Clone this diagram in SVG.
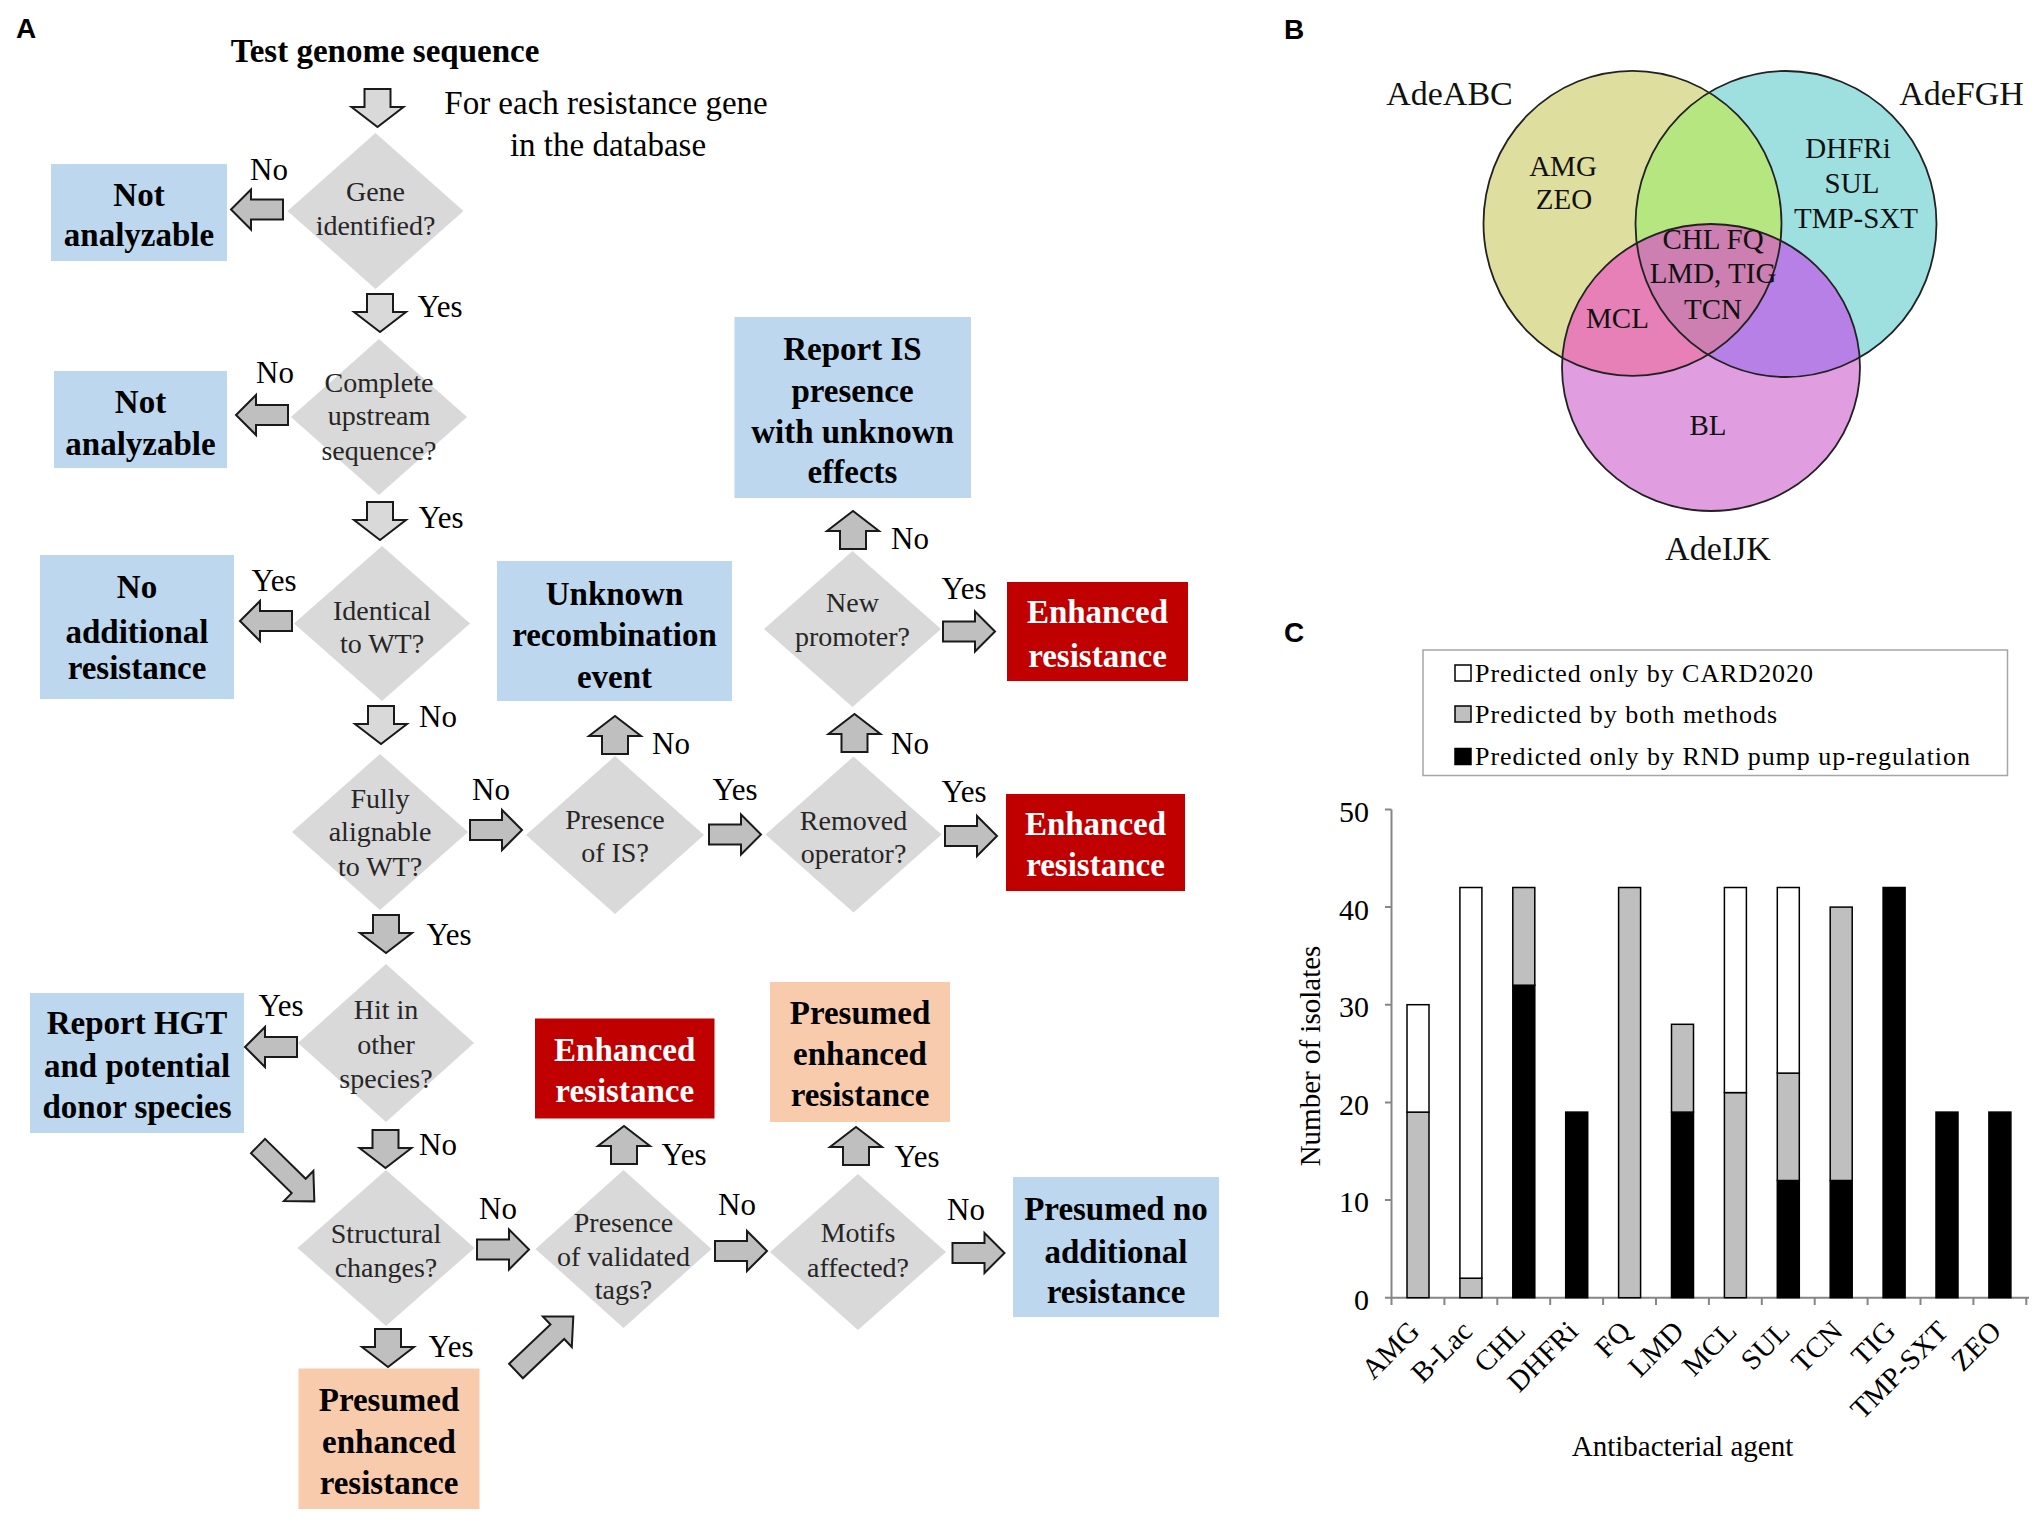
<svg xmlns="http://www.w3.org/2000/svg" xmlns:xlink="http://www.w3.org/1999/xlink" width="2033" height="1517" viewBox="0 0 2033 1517">
<style>
.dm{fill:#d9d9d9}
.bl{fill:#bdd7ee}
.rd{fill:#c00000}
.pc{fill:#f8cbad}
.q{font-family:"Liberation Serif",serif;font-size:28px;fill:#262626;text-anchor:middle}
.bx{font-family:"Liberation Serif",serif;font-size:33px;font-weight:bold;fill:#000;text-anchor:middle}
.bw{font-family:"Liberation Serif",serif;font-size:33px;font-weight:bold;fill:#fff;text-anchor:middle}
.yn{font-family:"Liberation Serif",serif;font-size:31px;fill:#000;text-anchor:middle}
.ti{font-family:"Liberation Serif",serif;font-size:33px;font-weight:bold;fill:#000;text-anchor:middle}
.nt{font-family:"Liberation Serif",serif;font-size:33px;fill:#000;text-anchor:middle}
.pl{font-family:"Liberation Sans",Arial,sans-serif;font-size:28px;font-weight:bold;fill:#000;text-anchor:middle}
.al{fill:#d9d9d9;stroke:#1a1a1a;stroke-width:2}
.am{fill:#bfbfbf;stroke:#1a1a1a;stroke-width:2}
.vr{font-family:"Liberation Serif",serif;font-size:34px;fill:#111;text-anchor:middle}
.vi{font-family:"Liberation Serif",serif;font-size:29px;fill:#111;text-anchor:middle}
.ring{fill:none;stroke:#222;stroke-width:1.8}
.lg{font-family:"Liberation Serif",serif;font-size:26px;fill:#000}
.tk{font-family:"Liberation Serif",serif;font-size:30px;fill:#000;text-anchor:end}
.xl{font-family:"Liberation Serif",serif;font-size:29px;fill:#000;text-anchor:end}
.ax{font-family:"Liberation Serif",serif;font-size:29px;fill:#000;text-anchor:middle}
.axl{stroke:#868686;stroke-width:2;fill:none}
.bw0{fill:#fff;stroke:#000;stroke-width:1.5}
.bg{fill:#bfbfbf;stroke:#000;stroke-width:1.5}
.bk{fill:#000;stroke:#000;stroke-width:1.5}
</style>
<defs>
<path id="ah" d="M0,-10 H32 V-20 L52,0 L32,20 V10 H0 Z"/>
<path id="av" d="M-13,0 H13 V18 H26 L0,38 L-26,18 H-13 Z"/>
<path id="ad" d="M0,-10 H57 V-21 L79,0 L57,21 V10 H0 Z"/>
<clipPath id="cY"><ellipse cx="1632.5" cy="223.3" rx="149" ry="152.5"/></clipPath>
<clipPath id="cC"><ellipse cx="1786" cy="224" rx="150.5" ry="153"/></clipPath>
<clipPath id="cYC" clip-path="url(#cY)"><ellipse cx="1786" cy="224" rx="150.5" ry="153"/></clipPath>
</defs>
<rect width="2033" height="1517" fill="#fff"/>

<!-- Panel A -->
<text class="pl" x="26" y="38">A</text>
<g id="start"><text class="ti" x="385" y="62">Test genome sequence</text></g>
<text class="nt" x="606" y="114">For each resistance gene</text>
<text class="nt" x="608" y="156">in the database</text>

<g id="d1"><polygon class="dm" points="375.5,133 463.5,211 375.5,289 287.5,211"/><text class="q" x="375.5" y="201">Gene</text><text class="q" x="375.5" y="234.5">identified?</text></g>
<g id="d2"><polygon class="dm" points="379,339 467,417 379,495 291,417"/><text class="q" x="379" y="392">Complete</text><text class="q" x="379" y="425">upstream</text><text class="q" x="379" y="460">sequence?</text></g>
<g id="d3"><polygon class="dm" points="382,546 470,623.5 382,701 294,623.5"/><text class="q" x="382" y="620">Identical</text><text class="q" x="382" y="653">to WT?</text></g>
<g id="d4"><polygon class="dm" points="380,754 468,832 380,910 292,832"/><text class="q" x="380" y="807.5">Fully</text><text class="q" x="380" y="841">alignable</text><text class="q" x="380" y="875.5">to WT?</text></g>
<g id="d5"><polygon class="dm" points="615,756 704,835 615,914 526,835"/><text class="q" x="615" y="829">Presence</text><text class="q" x="615" y="862">of IS?</text></g>
<g id="d6"><polygon class="dm" points="853.5,756.5 941.5,834.5 853.5,912.5 765.5,834.5"/><text class="q" x="853.5" y="830">Removed</text><text class="q" x="853.5" y="863">operator?</text></g>
<g id="d7"><polygon class="dm" points="852.5,551 941,629 852.5,707 764,629"/><text class="q" x="852.5" y="612">New</text><text class="q" x="852.5" y="646">promoter?</text></g>
<g id="d8"><polygon class="dm" points="386,964 474,1043 386,1122 298,1043"/><text class="q" x="386" y="1019">Hit in</text><text class="q" x="386" y="1053.5">other</text><text class="q" x="386" y="1088">species?</text></g>
<g id="d9"><polygon class="dm" points="386,1170 474.5,1248 386,1326 297.5,1248"/><text class="q" x="386" y="1242.5">Structural</text><text class="q" x="386" y="1277">changes?</text></g>
<g id="d10"><polygon class="dm" points="623.5,1170 711.5,1249 623.5,1328 535.5,1249"/><text class="q" x="623.5" y="1232">Presence</text><text class="q" x="623.5" y="1265.6">of validated</text><text class="q" x="623.5" y="1299">tags?</text></g>
<g id="d11"><polygon class="dm" points="858,1174 946,1252 858,1330 770,1252"/><text class="q" x="858" y="1241.6">Motifs</text><text class="q" x="858" y="1276.6">affected?</text></g>

<g id="b1"><rect class="bl" x="51" y="164" width="176" height="97"/><text class="bx" x="139" y="205.5">Not</text><text class="bx" x="139" y="245.5">analyzable</text></g>
<g id="b2"><rect class="bl" x="54" y="371" width="173" height="97"/><text class="bx" x="140.5" y="412.5">Not</text><text class="bx" x="140.5" y="454.5">analyzable</text></g>
<g id="b3"><rect class="bl" x="40" y="555" width="194" height="144"/><text class="bx" x="137" y="597.5">No</text><text class="bx" x="137" y="642.5">additional</text><text class="bx" x="137" y="679">resistance</text></g>
<g id="b4"><rect class="bl" x="497" y="561" width="235" height="140"/><text class="bx" x="614.5" y="604.5">Unknown</text><text class="bx" x="614.5" y="645.5">recombination</text><text class="bx" x="614.5" y="687.5">event</text></g>
<g id="b5"><rect class="bl" x="734.5" y="317" width="236.5" height="181"/><text class="bx" x="852.5" y="359.5">Report IS</text><text class="bx" x="852.5" y="401.5">presence</text><text class="bx" x="852.5" y="442.5">with unknown</text><text class="bx" x="852.5" y="482.5">effects</text></g>
<g id="b6"><rect class="rd" x="1007" y="582" width="181" height="99"/><text class="bw" x="1097.5" y="623">Enhanced</text><text class="bw" x="1097.5" y="666.5">resistance</text></g>
<g id="b7"><rect class="rd" x="1006" y="794" width="179" height="97"/><text class="bw" x="1095.5" y="834.5">Enhanced</text><text class="bw" x="1095.5" y="876">resistance</text></g>
<g id="b8"><rect class="bl" x="30" y="993" width="214" height="140"/><text class="bx" x="137" y="1033.5">Report HGT</text><text class="bx" x="137" y="1076.5">and potential</text><text class="bx" x="137" y="1117.5">donor species</text></g>
<g id="b9"><rect class="pc" x="298.5" y="1368.5" width="181" height="140.5"/><text class="bx" x="389" y="1410.5">Presumed</text><text class="bx" x="389" y="1452.5">enhanced</text><text class="bx" x="389" y="1493.5">resistance</text></g>
<g id="b10"><rect class="rd" x="535" y="1018.5" width="179.5" height="100"/><text class="bw" x="624.7" y="1060.5">Enhanced</text><text class="bw" x="624.7" y="1102">resistance</text></g>
<g id="b11"><rect class="pc" x="770" y="982" width="180" height="140"/><text class="bx" x="860" y="1023.5">Presumed</text><text class="bx" x="860" y="1064.5">enhanced</text><text class="bx" x="860" y="1106">resistance</text></g>
<g id="b12"><rect class="bl" x="1013" y="1177" width="206" height="140"/><text class="bx" x="1116" y="1220">Presumed no</text><text class="bx" x="1116" y="1262.5">additional</text><text class="bx" x="1116" y="1303">resistance</text></g>

<g id="connectors">
<use xlink:href="#av" class="al" transform="translate(377.5,89)"/>
<use xlink:href="#ah" class="am" transform="translate(283,209.5) rotate(180)"/>
<use xlink:href="#av" class="al" transform="translate(380,294)"/>
<use xlink:href="#ah" class="am" transform="translate(288,415) rotate(180)"/>
<use xlink:href="#av" class="al" transform="translate(380,502)"/>
<use xlink:href="#ah" class="am" transform="translate(292,621) rotate(180)"/>
<use xlink:href="#av" class="al" transform="translate(381,706)"/>
<use xlink:href="#ah" class="am" transform="translate(470,830)"/>
<use xlink:href="#av" class="am" transform="translate(615,754) rotate(180)"/>
<use xlink:href="#ah" class="am" transform="translate(709,834.5)"/>
<use xlink:href="#av" class="am" transform="translate(854.5,752) rotate(180)"/>
<use xlink:href="#ah" class="am" transform="translate(945,836)"/>
<use xlink:href="#av" class="am" transform="translate(853,549) rotate(180)"/>
<use xlink:href="#ah" class="am" transform="translate(943,631.5)"/>
<use xlink:href="#av" class="am" transform="translate(386,915)"/>
<use xlink:href="#ah" class="am" transform="translate(297,1047) rotate(180)"/>
<use xlink:href="#av" class="am" transform="translate(385.5,1130)"/>
<use xlink:href="#ad" class="am" transform="translate(258,1146) rotate(44.5)"/>
<use xlink:href="#ah" class="am" transform="translate(477,1249.5)"/>
<use xlink:href="#av" class="am" transform="translate(388,1329)"/>
<use xlink:href="#ad" class="am" transform="translate(516,1371) rotate(-43.5)"/>
<use xlink:href="#av" class="am" transform="translate(624,1164) rotate(180)"/>
<use xlink:href="#ah" class="am" transform="translate(715,1251)"/>
<use xlink:href="#av" class="am" transform="translate(856,1165) rotate(180)"/>
<use xlink:href="#ah" class="am" transform="translate(952.5,1253)"/>
<text class="yn" x="269" y="180">No</text>
<text class="yn" x="440" y="317">Yes</text>
<text class="yn" x="275" y="383">No</text>
<text class="yn" x="441" y="528">Yes</text>
<text class="yn" x="274" y="591">Yes</text>
<text class="yn" x="438" y="727">No</text>
<text class="yn" x="491" y="800">No</text>
<text class="yn" x="671" y="754">No</text>
<text class="yn" x="735" y="800">Yes</text>
<text class="yn" x="910" y="754">No</text>
<text class="yn" x="964" y="802">Yes</text>
<text class="yn" x="910" y="549">No</text>
<text class="yn" x="964" y="599">Yes</text>
<text class="yn" x="449" y="945">Yes</text>
<text class="yn" x="281" y="1016">Yes</text>
<text class="yn" x="438" y="1155">No</text>
<text class="yn" x="498" y="1219">No</text>
<text class="yn" x="451" y="1357">Yes</text>
<text class="yn" x="684" y="1165">Yes</text>
<text class="yn" x="737" y="1215">No</text>
<text class="yn" x="917" y="1167">Yes</text>
<text class="yn" x="966" y="1220">No</text>
</g>

<!-- Panel B -->
<text class="pl" x="1294" y="39">B</text>
<g id="venn">
<ellipse cx="1632.5" cy="223.3" rx="149" ry="152.5" fill="#dede9e"/>
<ellipse cx="1786" cy="224" rx="150.5" ry="153" fill="#9ee0e0"/>
<ellipse cx="1711" cy="367.5" rx="149" ry="143.5" fill="#e09ee0"/>
<ellipse cx="1786" cy="224" rx="150.5" ry="153" fill="#b6e680" clip-path="url(#cY)"/>
<ellipse cx="1711" cy="367.5" rx="149" ry="143.5" fill="#e680b6" clip-path="url(#cY)"/>
<ellipse cx="1711" cy="367.5" rx="149" ry="143.5" fill="#b680e6" clip-path="url(#cC)"/>
<ellipse cx="1711" cy="367.5" rx="149" ry="143.5" fill="#cc7fb0" clip-path="url(#cYC)"/>
<ellipse class="ring" cx="1632.5" cy="223.3" rx="149" ry="152.5"/>
<ellipse class="ring" cx="1786" cy="224" rx="150.5" ry="153"/>
<ellipse class="ring" cx="1711" cy="367.5" rx="149" ry="143.5"/>
<text class="vr" x="1449.5" y="105">AdeABC</text>
<text class="vr" x="1961.5" y="105">AdeFGH</text>
<text class="vr" x="1718" y="560">AdeIJK</text>
<text class="vi" x="1563" y="175.5">AMG</text>
<text class="vi" x="1564" y="208.5">ZEO</text>
<text class="vi" x="1848" y="158">DHFRi</text>
<text class="vi" x="1852" y="192.5">SUL</text>
<text class="vi" x="1856" y="227.5">TMP-SXT</text>
<text class="vi" x="1713" y="248.5">CHL FQ</text>
<text class="vi" x="1713" y="283">LMD, TIG</text>
<text class="vi" x="1713" y="318.5">TCN</text>
<text class="vi" x="1617.5" y="328">MCL</text>
<text class="vi" x="1708" y="434.5">BL</text>
</g>

<!-- Panel C -->
<text class="pl" x="1294" y="642">C</text>
<g id="legend">
<rect x="1423" y="650" width="584.5" height="125.5" fill="#fff" stroke="#a6a6a6" stroke-width="1.5"/>
<rect class="bw0" x="1455" y="665" width="16" height="16"/>
<rect class="bg" x="1455" y="706" width="16" height="16"/>
<rect class="bk" x="1455" y="748.5" width="16" height="16"/>
<text class="lg" x="1475" y="681.5" textLength="338" lengthAdjust="spacing">Predicted only by CARD2020</text>
<text class="lg" x="1475" y="722.5" textLength="302" lengthAdjust="spacing">Predicted by both methods</text>
<text class="lg" x="1475" y="765" textLength="495" lengthAdjust="spacing">Predicted only by RND pump up-regulation</text>
</g>
<g id="chart">
<path class="axl" d="M1391.5,809.4 V1297.7 H2029"/>
<path class="axl" d="M1385,809.4 H1391.5 M1385,907.1 H1391.5 M1385,1004.7 H1391.5 M1385,1102.4 H1391.5 M1385,1200 H1391.5 M1385,1297.7 H1391.5"/>
<path class="axl" d="M1391.5,1297.7 V1305 M1444.4,1297.7 V1305 M1497.3,1297.7 V1305 M1550.2,1297.7 V1305 M1603.1,1297.7 V1305 M1656,1297.7 V1305 M1708.9,1297.7 V1305 M1761.8,1297.7 V1305 M1814.7,1297.7 V1305 M1867.6,1297.7 V1305 M1920.5,1297.7 V1305 M1973.4,1297.7 V1305 M2026.3,1297.7 V1305"/>
<text class="tk" x="1369" y="822">50</text>
<text class="tk" x="1369" y="919.5">40</text>
<text class="tk" x="1369" y="1017">30</text>
<text class="tk" x="1369" y="1114.5">20</text>
<text class="tk" x="1369" y="1212">10</text>
<text class="tk" x="1369" y="1309.5">0</text>
<rect class="bg" x="1407" y="1112.1" width="22" height="185.6"/>
<rect class="bw0" x="1407" y="1004.7" width="22" height="107.4"/>
<rect class="bg" x="1459.9" y="1278.2" width="22" height="19.5"/>
<rect class="bw0" x="1459.9" y="887.5" width="22" height="390.7"/>
<rect class="bk" x="1512.8" y="985.2" width="22" height="312.5"/>
<rect class="bg" x="1512.8" y="887.5" width="22" height="97.7"/>
<rect class="bk" x="1565.7" y="1112.1" width="22" height="185.6"/>
<rect class="bg" x="1618.6" y="887.5" width="22" height="410.2"/>
<rect class="bk" x="1671.5" y="1112.1" width="22" height="185.6"/>
<rect class="bg" x="1671.5" y="1024.3" width="22" height="87.8"/>
<rect class="bg" x="1724.4" y="1092.6" width="22" height="205.1"/>
<rect class="bw0" x="1724.4" y="887.5" width="22" height="205.1"/>
<rect class="bk" x="1777.3" y="1180.5" width="22" height="117.2"/>
<rect class="bg" x="1777.3" y="1073.1" width="22" height="107.4"/>
<rect class="bw0" x="1777.3" y="887.5" width="22" height="185.6"/>
<rect class="bk" x="1830.2" y="1180.5" width="22" height="117.2"/>
<rect class="bg" x="1830.2" y="907.1" width="22" height="273.4"/>
<rect class="bk" x="1883.1" y="887.5" width="22" height="410.2"/>
<rect class="bk" x="1936" y="1112.1" width="22" height="185.6"/>
<rect class="bk" x="1988.9" y="1112.1" width="22" height="185.6"/>
<text class="xl" transform="translate(1421,1333) rotate(-45)">AMG</text>
<text class="xl" transform="translate(1473.9,1333) rotate(-45)">B-Lac</text>
<text class="xl" transform="translate(1526.8,1333) rotate(-45)">CHL</text>
<text class="xl" transform="translate(1579.7,1333) rotate(-45)">DHFRi</text>
<text class="xl" transform="translate(1632.6,1333) rotate(-45)">FQ</text>
<text class="xl" transform="translate(1685.5,1333) rotate(-45)">LMD</text>
<text class="xl" transform="translate(1738.4,1333) rotate(-45)">MCL</text>
<text class="xl" transform="translate(1791.3,1333) rotate(-45)">SUL</text>
<text class="xl" transform="translate(1844.2,1333) rotate(-45)">TCN</text>
<text class="xl" transform="translate(1897.1,1333) rotate(-45)">TIG</text>
<text class="xl" transform="translate(1950,1333) rotate(-45)">TMP-SXT</text>
<text class="xl" transform="translate(2002.9,1333) rotate(-45)">ZEO</text>
<text class="ax" transform="translate(1319.5,1056) rotate(-90)">Number of isolates</text>
<text class="ax" x="1682.5" y="1456">Antibacterial agent</text>
</g>
</svg>
